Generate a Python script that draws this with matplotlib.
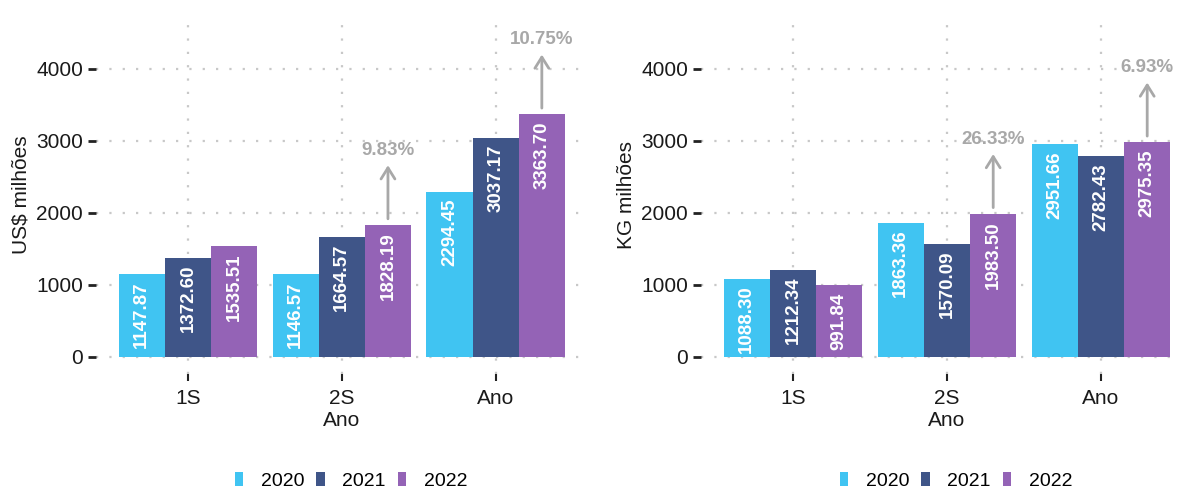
import matplotlib
matplotlib.use("Agg")
import matplotlib.pyplot as plt
from matplotlib.patches import Patch
import numpy as np

plt.rcParams['font.family'] = ['Liberation Sans', 'DejaVu Sans']

categories = ["1S", "2S", "Ano"]
years = ["2020", "2021", "2022"]
colors = ["#40C4F2", "#3F5588", "#9463B6"]

usd_2020 = [1147.87, 1146.57, 2294.45]
usd_2021 = [1372.60, 1664.57, 3037.17]
usd_2022 = [1535.51, 1828.19, 3363.70]
usd_growth = {"2S": "9.83%", "Ano": "10.75%"}

kg_2020 = [1088.30, 1863.36, 2951.66]
kg_2021 = [1212.34, 1570.09, 2782.43]
kg_2022 = [991.84, 1983.50, 2975.35]
kg_growth = {"2S": "26.33%", "Ano": "6.93%"}

W, H = 1178, 491
fig = plt.figure(figsize=(W / 100, H / 100), dpi=100)

def px_axes(x0, x1, ytop, ybot):
    return fig.add_axes([x0 / W, (H - ybot) / H, (x1 - x0) / W, (ybot - ytop) / H])

grey = "#A8A8A8"

def draw(ax, series, growth, ylabel):
    x = np.arange(1, len(categories) + 1)
    bw = 0.3
    for i, (vals, col) in enumerate(zip(series, colors)):
        xs = x + (i - 1) * bw
        ax.bar(xs, vals, width=bw, color=col, zorder=2, linewidth=0)
        for xi, v in zip(xs, vals):
            ax.annotate(f"{v:.2f}", (xi, v), xytext=(0, -5), textcoords="offset points",
                        rotation=90, ha="center", va="top", color="white",
                        fontsize=13.5, fontweight="bold", zorder=3)
    last = series[-1]
    for ci, cat in enumerate(categories):
        if cat in growth:
            xi = x[ci] + bw
            v = last[ci]
            ax.annotate("", xy=(xi, v + 870), xytext=(xi, v + 50),
                        arrowprops=dict(arrowstyle="->,head_length=0.8,head_width=0.5",
                                        color=grey, lw=2.0), zorder=3)
            ax.text(xi, v + 1040, growth[cat], ha="center", va="center", color=grey,
                    fontsize=13.5, fontweight="bold", zorder=3)
    ax.set_xlim(0.4, 3.6)
    ax.set_ylim(-236, (357 - 16) / 0.0721)
    ax.set_xticks(x)
    ax.set_xticklabels(categories)
    ax.set_yticks([0, 1000, 2000, 3000, 4000])
    ax.grid(True, color="#C8C8C8", linestyle=(0, (1, 5)), linewidth=1.6, zorder=0)
    ax.set_axisbelow(True)
    for s in ax.spines.values():
        s.set_visible(False)
    ax.tick_params(axis="y", length=6, width=2, color="#222222", labelsize=15, pad=3,
                   labelcolor="#1A1A1A")
    ax.tick_params(axis="x", length=5, width=1.5, color="#222222", labelsize=15, pad=6,
                   labelcolor="#1A1A1A")
    ax.set_ylabel(ylabel, fontsize=15, labelpad=4, color="#1A1A1A")
    ax.set_xlabel("Ano", fontsize=15, labelpad=2, color="#1A1A1A")

ax1 = px_axes(95.6, 588, 16, 374)
draw(ax1, [usd_2020, usd_2021, usd_2022], usd_growth, "US$ milhões")
ax2 = px_axes(700.6, 1193.4, 16, 374)
draw(ax2, [kg_2020, kg_2021, kg_2022], kg_growth, "KG milhões")

handles = [Patch(facecolor=c, edgecolor="none") for c in colors]
for cx in (351, 956):
    fig.legend(handles, years, loc="center", bbox_to_anchor=(cx / W, (H - 481) / H),
               ncol=3, frameon=False, fontsize=14, handlelength=0.45, handleheight=0.75,
               handletextpad=0.9, columnspacing=0.6, borderpad=0, borderaxespad=0)

fig.savefig("out.png", dpi=100)
